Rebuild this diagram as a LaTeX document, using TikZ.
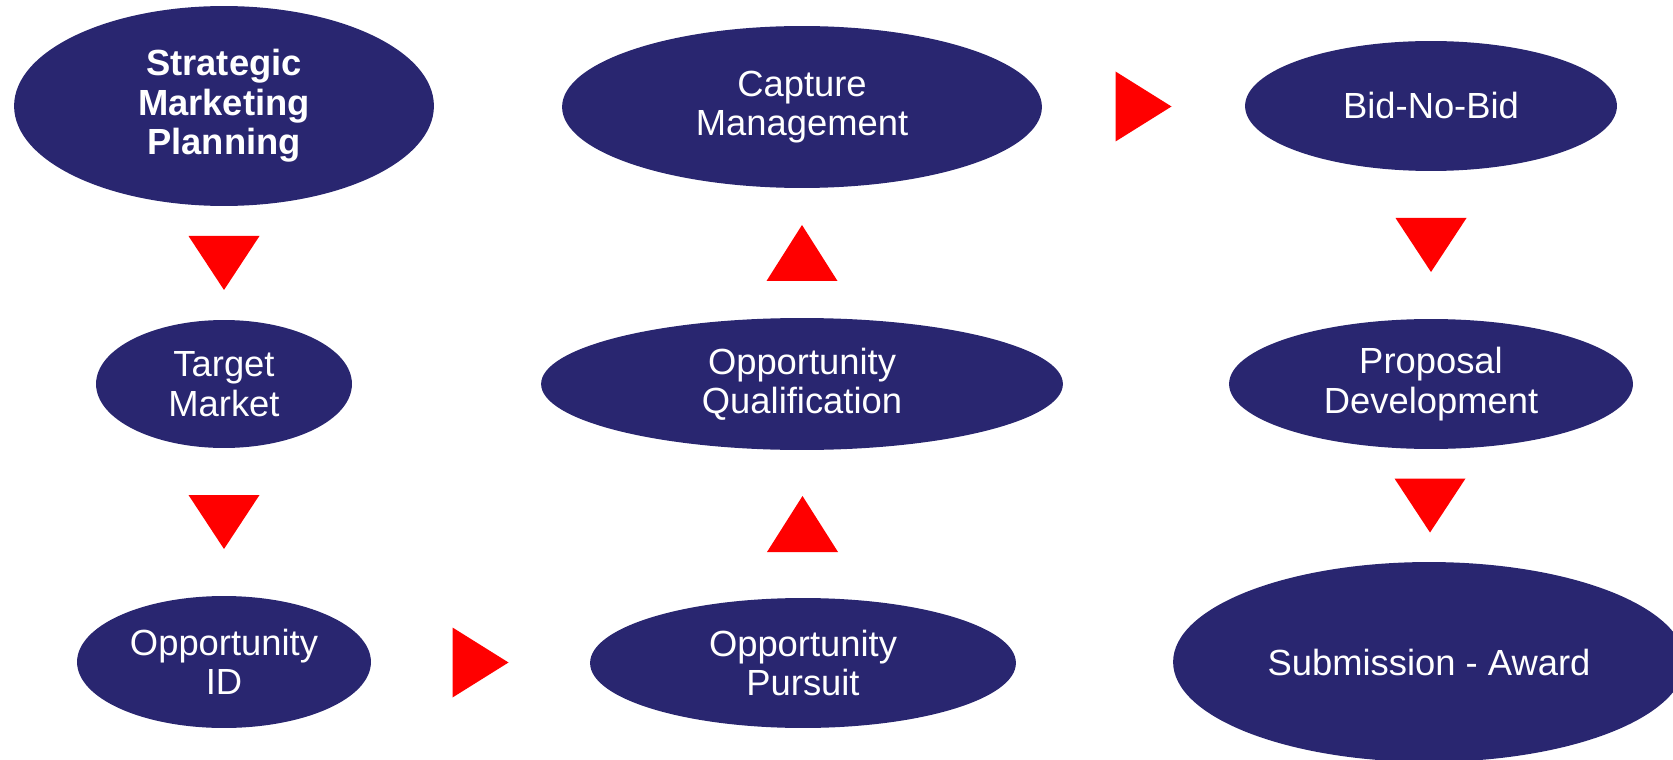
\documentclass[tikz,border=0pt]{standalone}
\usepackage{fontspec}
\setmainfont{Liberation Sans}
\usetikzlibrary{shapes.geometric,calc}
\definecolor{stepnavy}{RGB}{41,38,112}
\definecolor{steparrow}{RGB}{255,0,0}
\begin{document}
\begin{tikzpicture}[x=0.02cm,y=-0.02cm,
  stage/.style n args={2}{ellipse,fill=stepnavy,draw=none,inner sep=0pt,
    minimum width=#1*0.04cm,minimum height=#2*0.04cm,
    text=white,align=center,font=\fontsize{20.7}{22.4}\selectfont},
  tri/.style={fill=steparrow}]
\useasboundingbox (0,0) rectangle (1673,760);
\clip (0,0) rectangle (1673,760);

% process stages
\node[stage={210}{100},font=\fontsize{20.7}{22.4}\selectfont\bfseries] (smp) at (224,106) {Strategic\\Marketing\\Planning};
\node[stage={128}{64}]  (tm)  at (224,384) {Target\\Market};
\node[stage={147}{66}]  (oid) at (224,662) {Opportunity\\ID};
\node[stage={213}{65}]  (op)  at (803,663) {Opportunity\\Pursuit};
\node[stage={261}{66}]  (oq)  at (802,384) {Opportunity\\Qualification};
\node[stage={240}{81}]  (cm)  at (802,107) {Capture\\Management};
\node[stage={186}{65}]  (bnb) at (1431,106) {Bid-No-Bid};
\node[stage={202}{65}]  (pd)  at (1431,384) {Proposal\\Development};
\node[stage={256}{100}] (sa)  at (1429,662) {Submission - Award};

% flow markers between stages
\fill[tri] ($(smp.south)!0.5!(tm.north)$) ++(-35.5,-27) -- ++(71,0) -- ++(-35.5,54) -- cycle;
\fill[tri] ($(tm.south)!0.5!(oid.north)$) ++(-35.5,-27) -- ++(71,0) -- ++(-35.5,54) -- cycle;
\fill[tri] ($(oid.east)!0.5!(op.west)$) ++(-28,-35) -- ++(0,70) -- ++(56,-35) -- cycle;
\fill[tri] ($(op.north)!0.5!(oq.south)$) ++(-35.5,28) -- ++(71,0) -- ++(-35.5,-56) -- cycle;
\fill[tri] ($(oq.north)!0.5!(cm.south)$) ++(-35.5,28) -- ++(71,0) -- ++(-35.5,-56) -- cycle;
\fill[tri] ($(cm.east)!0.5!(bnb.west)$) ++(-28,-35) -- ++(0,70) -- ++(56,-35) -- cycle;
\fill[tri] ($(bnb.south)!0.5!(pd.north)$) ++(-35.5,-27) -- ++(71,0) -- ++(-35.5,54) -- cycle;
\fill[tri] ($(pd.south)!0.5!(sa.north)$) ++(-35.5,-27) -- ++(71,0) -- ++(-35.5,54) -- cycle;
\end{tikzpicture}
\end{document}
